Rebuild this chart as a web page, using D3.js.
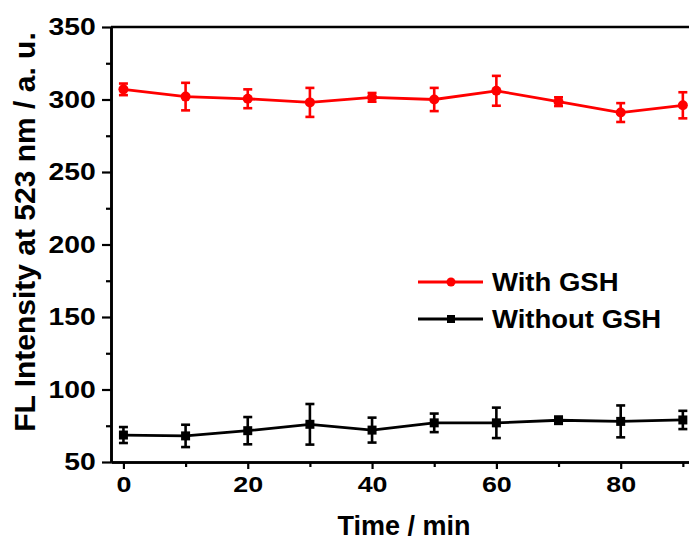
<!DOCTYPE html>
<html>
<head>
<meta charset="utf-8">
<script src="https://cdn.jsdelivr.net/npm/d3@7"></script>
<style>
  html, body { margin: 0; padding: 0; background: #fff; }
  svg { display: block; }
  text { font-family: "Liberation Sans", Arial, sans-serif; font-weight: bold; fill: #000; }
</style>
</head>
<body>
<svg id="chart" width="689" height="540"></svg>
<script>
const time = [0, 10, 20, 30, 40, 50, 60, 70, 80, 90];
const withGSH = [307, 302, 300.5, 298, 301.5, 300, 306, 298.5, 291, 296];
const withErr = [4, 9.5, 6.5, 10, 3, 8, 10.3, 3, 6.5, 9];
const withoutGSH = [68.6, 68, 71.6, 76, 72, 77, 77, 78.8, 78, 79];
const withoutErr = [5.5, 7.7, 9.4, 14, 8.6, 6.4, 10.5, 2.5, 11, 6.3];
const xMajor = [0, 20, 40, 60, 80];
const xMinor = [10, 30, 50, 70, 90];
const yMajor = [50, 100, 150, 200, 250, 300, 350];
const yMinor = [75, 125, 175, 225, 275, 325];
const seriesNames = ["With GSH", "Without GSH"];
const seriesColors = ["#ff0000", "#000000"];

const svg = d3.select("#chart");
const x = d3.scaleLinear().domain([-2, 100]).range([111, 745]);
const y = d3.scaleLinear().domain([50, 350]).range([462, 27]);

const axisW = 2.6;

// top frame
svg.append("line").attr("x1", x(-2)).attr("x2", x(100)).attr("y1", y(350)).attr("y2", y(350))
  .attr("stroke", "#000").attr("stroke-width", axisW);

function styleAxis(g) {
  g.select(".domain").attr("stroke-width", axisW);
  g.selectAll(".tick line").attr("stroke-width", 2.2);
}

// x axis
const gx = svg.append("g").attr("transform", `translate(0,${y(50)})`)
  .call(d3.axisBottom(x).tickValues(xMajor).tickSize(7).tickSizeOuter(0).tickPadding(7).tickFormat(d3.format("d")));
styleAxis(gx);
gx.selectAll(".tick text").style("font-size", "22px").attr("transform", "scale(1.22,1)");
const gxm = svg.append("g").attr("transform", `translate(0,${y(50)})`)
  .call(d3.axisBottom(x).tickValues(xMinor).tickSize(5).tickSizeOuter(0).tickFormat(""));
styleAxis(gxm);

// y axis
const gy = svg.append("g").attr("transform", `translate(${x(-2)},0)`)
  .call(d3.axisLeft(y).tickValues(yMajor).tickSize(9).tickSizeOuter(0).tickPadding(4).tickFormat(d3.format("d")));
styleAxis(gy);
gy.selectAll(".tick text").style("font-size", "24px").attr("transform", "scale(1.18,1)");
const gym = svg.append("g").attr("transform", `translate(${x(-2)},0)`)
  .call(d3.axisLeft(y).tickValues(yMinor).tickSize(5).tickSizeOuter(0).tickFormat(""));
styleAxis(gym);

// axis titles
svg.append("text").attr("x", 404).attr("y", 535).attr("text-anchor", "middle")
  .attr("font-size", 27).text("Time / min");
svg.append("text").attr("transform", "translate(35,232) rotate(-90)").attr("text-anchor", "middle")
  .attr("font-size", 30).text("FL Intensity at 523 nm / a. u.");

// series
const series = [
  { vals: withGSH, err: withErr, color: seriesColors[0], marker: "circle" },
  { vals: withoutGSH, err: withoutErr, color: seriesColors[1], marker: "square" }
];
const line = d3.line().x(d => x(d[0])).y(d => y(d[1]));
series.forEach(s => {
  const pts = time.map((t, i) => [t, s.vals[i], s.err[i]]);
  const g = svg.append("g");
  g.append("path").datum(pts).attr("d", line).attr("fill", "none")
    .attr("stroke", s.color).attr("stroke-width", 2.8);
  const eb = g.selectAll(".eb").data(pts).enter().append("g");
  eb.append("line").attr("x1", d => x(d[0])).attr("x2", d => x(d[0]))
    .attr("y1", d => y(d[1] - d[2])).attr("y2", d => y(d[1] + d[2]))
    .attr("stroke", s.color).attr("stroke-width", 2.6);
  [-1, 1].forEach(sg => {
    eb.append("line").attr("x1", d => x(d[0]) - 4.5).attr("x2", d => x(d[0]) + 4.5)
      .attr("y1", d => y(d[1] + sg * d[2])).attr("y2", d => y(d[1] + sg * d[2]))
      .attr("stroke", s.color).attr("stroke-width", 2.6);
  });
  if (s.marker === "circle") {
    g.selectAll(".m").data(pts).enter().append("circle")
      .attr("cx", d => x(d[0])).attr("cy", d => y(d[1])).attr("r", 5).attr("fill", s.color);
  } else {
    g.selectAll(".m").data(pts).enter().append("rect")
      .attr("x", d => x(d[0]) - 4.5).attr("y", d => y(d[1]) - 4.5)
      .attr("width", 9).attr("height", 9).attr("fill", s.color);
  }
});

// legend
const legY = [282, 319];
seriesNames.forEach((name, i) => {
  const g = svg.append("g");
  g.append("line").attr("x1", 418).attr("x2", 483).attr("y1", legY[i]).attr("y2", legY[i])
    .attr("stroke", seriesColors[i]).attr("stroke-width", 2.8);
  if (i === 0) {
    g.append("circle").attr("cx", 451).attr("cy", legY[i]).attr("r", 4.5).attr("fill", seriesColors[i]);
  } else {
    g.append("rect").attr("x", 447).attr("y", legY[i] - 4).attr("width", 8).attr("height", 8).attr("fill", seriesColors[i]);
  }
  g.append("text").attr("transform", `translate(492,${legY[i] + 9}) scale(1.1,1)`)
    .attr("font-size", 25).text(name);
});
</script>
</body>
</html>
